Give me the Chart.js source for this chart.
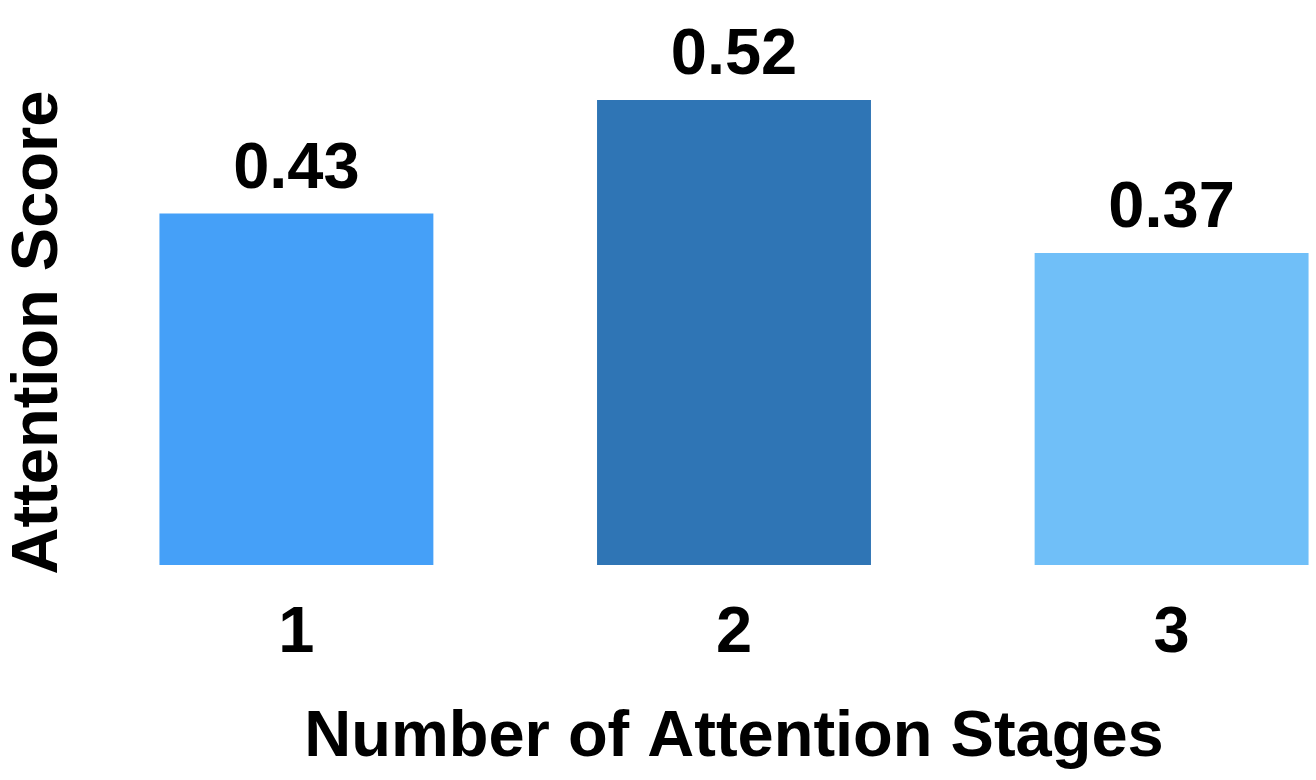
<!DOCTYPE html>
<html>
<head>
<meta charset="utf-8">
<title>Attention Score</title>
<script src="https://cdn.jsdelivr.net/npm/chart.js"></script>
<style>
  html, body { margin: 0; padding: 0; background: #fff; }
  #wrap { width: 1316px; height: 780px; }
</style>
</head>
<body>
<div id="wrap"><canvas id="barChart"></canvas></div>
<script>
// 데이터
const stages = [1, 2, 3];
// bar heights as drawn in the picture (the printed labels don't match them exactly)
const barValues = [0.393, 0.52, 0.349];
const valueLabels = ["0.43", "0.52", "0.37"];
const barColors = ["#45a0f8", "#2f75b5", "#70bff8"];

const FONT = "'Liberation Sans', Arial, Helvetica, sans-serif";

// 막대 위 숫자
const barLabels = {
  id: "barLabels",
  afterDatasetsDraw(chart) {
    const ctx = chart.ctx;
    const meta = chart.getDatasetMeta(0);
    ctx.save();
    ctx.font = "bold 65px " + FONT;
    ctx.fillStyle = "#000";
    ctx.textAlign = "center";
    ctx.textBaseline = "alphabetic";
    meta.data.forEach((bar, i) => {
      ctx.fillText(valueLabels[i], bar.x, bar.y - 26);
    });
    ctx.restore();
  },
};

window.addEventListener("load", () => {
  const ctx = document.getElementById("barChart");

  new Chart(ctx, {
    type: "bar",
    data: {
      datasets: [
        {
          data: stages.map((s, i) => ({ x: s, y: barValues[i] })),
          backgroundColor: barColors,
          borderWidth: 0,
          categoryPercentage: 1,
          barPercentage: 0.626,
        },
      ],
    },
    options: {
      responsive: true,
      maintainAspectRatio: false,
      animation: false,
      layout: { padding: { top: 100, left: 0, right: 0, bottom: 0 } },
      plugins: {
        legend: { display: false },
        tooltip: { enabled: false },
      },
      scales: {
        x: {
          type: "linear",
          offset: false,
          min: 0.67,
          max: 3.33,
          afterBuildTicks: (axis) => {
            axis.ticks = stages.map((v) => ({ value: v }));
          },
          grid: { display: false, drawTicks: false },
          border: { display: false },
          ticks: {
            color: "#000",
            padding: 37,
            font: { family: FONT, size: 65, weight: "bold", lineHeight: 1 },
          },
          title: {
            display: true,
            text: "Number of Attention Stages",
            color: "#000",
            padding: { top: 2, bottom: 9 },
            font: { family: FONT, size: 65, weight: "bold", lineHeight: 1 },
          },
        },
        y: {
          min: 0,
          max: 0.52,
          grid: { display: false, drawTicks: false },
          border: { display: false },
          ticks: { display: false },
          title: {
            display: true,
            text: "Attention Score",
            color: "#000",
            padding: { top: 7, bottom: 80 },
            font: { family: FONT, size: 65, weight: "bold", lineHeight: 1 },
          },
        },
      },
    },
    plugins: [barLabels],
  });
});
</script>
</body>
</html>
